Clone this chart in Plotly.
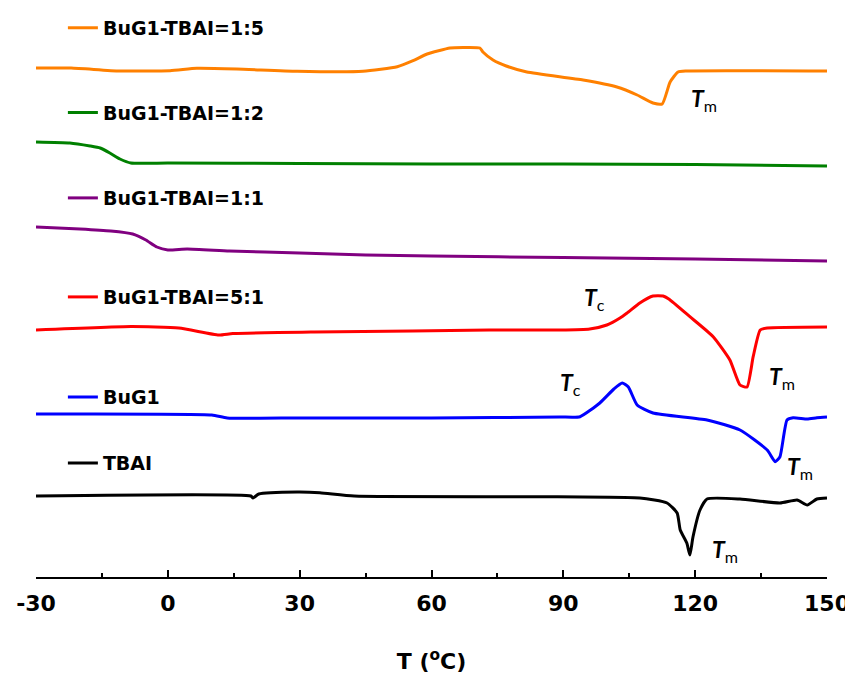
import plotly.graph_objects as go

# Temperatures (°C) and offset heat-flow signal (arbitrary units, stacked)
names = ["BuG1-TBAI=1:5", "BuG1-TBAI=1:2", "BuG1-TBAI=1:1", "BuG1-TBAI=5:1", "BuG1", "TBAI"]
colors = ["#FF8000", "#008000", "#800080", "#FF0000", "#0000FF", "#000000"]

t_15 = [-30, -22, -11, 0.5, 6.6, 15.7, 29.4, 44.4, 52.2, 55.8, 59.0, 64.2, 67.2, 71.0, 71.7, 74.0, 77,
        81.7, 94.5, 102.2, 106.8, 110.4, 112.5, 114.3, 116.1, 118, 150]
y_15 = [509, 509, 506, 506.3, 508.7, 508, 505.7, 505.7, 510.3, 516.3, 523, 529, 529.5, 529, 525, 517, 511,
        505, 497, 490, 482, 474, 473, 495, 505, 506, 506]

t_12 = [-30, -22.3, -17.7, -15.4, -13.2, -10.9, -8.4, 0, 30, 60, 90, 120, 150]
y_12 = [435, 434, 431, 429, 424, 418, 414, 414, 413.5, 413, 413, 412.5, 411]

t_11 = [-30, -20, -13, -8, -5, -2.5, 0, 4.4, 14, 30, 45, 60, 90, 120, 150]
y_11 = [350, 348, 346, 343, 337, 330, 327, 328, 326, 324, 322, 321, 319.5, 318, 316]

t_51 = [-30, -8.4, 2.5, 11.6, 14.8, 33.3, 55.6, 73.1, 89.2, 96, 99.9, 102.9, 104.5, 107.4, 110.4, 112.7,
        114, 118.8, 124.1, 127.9, 130.2, 131.8, 133.2, 134.8, 136.4, 150]
y_51 = [247, 250.5, 249, 242, 243.5, 245, 246, 247, 247, 248, 252, 259, 264, 274, 281, 281,
        278, 260.3, 240.3, 217, 192, 190, 220.3, 247, 249, 250]

t_bu = [-30, 10, 13.5, 30, 60, 89.2, 93.8, 98.3, 101.5, 103.4, 104.8, 106.8, 110.4, 122.7, 130.2, 136.4,
        138.2, 139.3, 140.9, 142.3, 145.5, 147.7, 150]
y_bu = [163, 162, 159, 159, 159, 160, 160.3, 174, 188, 194, 190, 172, 164, 157, 147, 127,
        115.3, 120.3, 157, 159.3, 158, 159.3, 160]

t_tb = [-30, 18.9, 19.4, 20.7, 29.4, 34.6, 42.4, 84.7, 107.4, 113.6, 115.9, 116.6, 118.1, 118.8, 119.5,
        121.1, 122.7, 130.2, 139.3, 143.2, 145.5, 147.7, 150]
y_tb = [81, 81, 79, 83, 85, 84.3, 81, 80.3, 79, 74, 64, 47, 34, 22, 40,
        67, 78, 78, 74, 77, 72, 78, 79]

temps = [t_15, t_12, t_11, t_51, t_bu, t_tb]
signals = [y_15, y_12, y_11, y_51, y_bu, y_tb]

# legend vertical positions (paper fraction)
legend_y = [0.965, 0.816, 0.666, 0.492, 0.316, 0.200]

# peak labels
ann_text = ["m", "c", "m", "c", "m", "m"]
ann_x = [122.0, 97.2, 139.8, 91.7, 143.9, 126.8]
ann_y = [478, 279, 200, 194, 110, 27]

x_ticks = [-30, 0, 30, 60, 90, 120, 150]
x_tick_text = ["-30", "0", "30", "60", "90", "120", "150"]

fig = go.Figure()
for i, (nm, c, t, s) in enumerate(zip(names, colors, temps, signals)):
    lg = "legend" if i == 0 else f"legend{i+1}"
    fig.add_trace(go.Scatter(x=t, y=s, mode="lines", name=nm,
                             line=dict(color=c, width=3, shape="spline", smoothing=0.5),
                             legend=lg, showlegend=True))

leg_common = dict(x=0.034, xanchor="left", yanchor="middle", bgcolor="rgba(0,0,0,0)",
                  font=dict(family="DejaVu Sans", size=19, color="black", weight="bold"),
                  borderwidth=0)
layout_legends = {}
for i, ly in enumerate(legend_y):
    key = "legend" if i == 0 else f"legend{i+1}"
    layout_legends[key] = dict(y=ly, **leg_common)

for sub, ax, ay in zip(ann_text, ann_x, ann_y):
    fig.add_annotation(x=ax, y=ay, xref="x", yref="y", showarrow=False,
                       text=f"<b><i>T</i></b><sub>{sub}</sub>",
                       font=dict(family="Lato", size=23, color="black"))

fig.update_layout(
    width=853, height=675,
    margin=dict(l=28, r=34, t=0, b=106, autoexpand=False),
    plot_bgcolor="white", paper_bgcolor="white",
    **layout_legends,
    xaxis=dict(range=[-30, 150], tickmode="array", tickvals=x_ticks, ticktext=x_tick_text,
               ticks="inside", ticklen=7, tickwidth=2, tickcolor="black",
               showline=True, linewidth=2, linecolor="black", showgrid=False, zeroline=False,
               minor=dict(dtick=15, ticks="inside", ticklen=4, tickwidth=2, tickcolor="black", showgrid=False),
               ticklabelstandoff=6,
               tickfont=dict(family="DejaVu Sans", size=22, color="black", weight="bold"),
               title=dict(text="T (<sup>o</sup>C)", standoff=38,
                          font=dict(family="DejaVu Sans", size=22, color="black", weight="bold"))),
    yaxis=dict(range=[0, 569], visible=False, showgrid=False, zeroline=False),
)

fig.write_html("out.html")
